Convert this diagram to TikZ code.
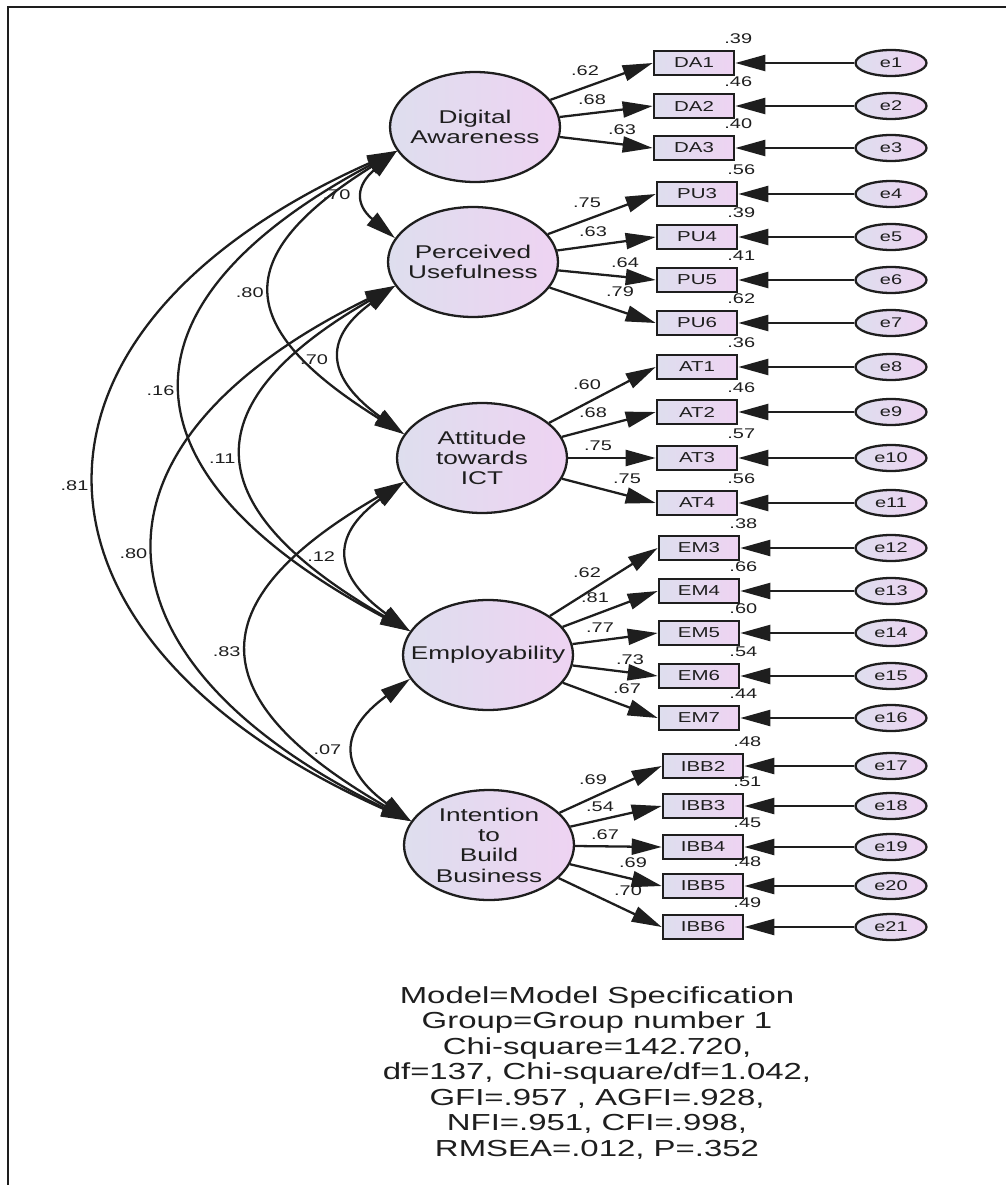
\documentclass[tikz,border=0pt]{standalone}
\usepackage{fontspec}
\setmainfont{Liberation Sans}[FakeStretch=1.42]
\usetikzlibrary{arrows.meta,shapes.geometric}

\definecolor{lavL}{RGB}{222,222,238}
\definecolor{lavR}{RGB}{238,211,242}
\definecolor{ink}{RGB}{30,30,30}

\begin{document}
\begin{tikzpicture}[
  x=0.02cm, y=-0.02cm,
  lavfill/.style={left color=lavL, right color=lavR},
  latent/.style={draw=ink, ellipse, lavfill, line width=1.3pt, minimum width=3.4cm,
    minimum height=2.2cm, inner xsep=-0.5cm, inner ysep=-1pt, align=center,
    text=ink, font=\fontsize{10.5}{11.6}\selectfont},
  obs/.style={draw=ink, rectangle, lavfill, line width=1.5pt, minimum width=1.6cm,
    minimum height=0.48cm, inner sep=0pt, text=ink, font=\fontsize{8.2}{9}\selectfont},
  error/.style={draw=ink, ellipse, lavfill, line width=1.3pt, minimum width=1.42cm,
    minimum height=0.52cm, inner sep=0pt, text=ink, font=\fontsize{8}{9}\selectfont},
  num/.style={inner sep=0pt, text=ink, font=\fontsize{8}{9}\selectfont},
  load/.style={draw=ink, line width=1.3pt, -{Triangle[length=0.6cm, width=0.32cm]}},
  cov/.style={draw=ink, line width=1.3pt,
    {Triangle[length=0.6cm, width=0.32cm]}-{Triangle[length=0.6cm, width=0.32cm]}},
  stats/.style={align=center, text=ink, font=\fontsize{13.2}{14.5}\selectfont}
]
\useasboundingbox (0,0) rectangle (1006,1185);

% Frame
\draw[ink, line width=1.3pt] (1006,7) -- (8,7) -- (8,1185);

% Latent variables
\node[latent] (DA)  at (475,127) {Digital\\Awareness};
\node[latent] (PU)  at (473,262) {Perceived\\Usefulness};
\node[latent] (AT)  at (482,458) {Attitude\\towards\\ICT};
\node[latent] (EM)  at (488,655) {Employability};
\node[latent] (IBB) at (489,845) {Intention\\to\\Build\\Business};

% Indicators, errors and loadings
\foreach \i/\lv/\txt/\xx/\yy/\ld/\lx/\ly/\rr in {
  1/DA/DA1/694/63/.62/585/71/.39,
  2/DA/DA2/694/106/.68/592/100/.46,
  3/DA/DA3/694/148/.63/622/130/.40,
  4/PU/PU3/697/194/.75/587/203/.56,
  5/PU/PU4/697/237/.63/593/232/.39,
  6/PU/PU5/697/280/.64/625/263/.41,
  7/PU/PU6/697/323/.79/620/292/.62,
  8/AT/AT1/697/367/.60/587/385/.36,
  9/AT/AT2/697/412/.68/593/413/.46,
  10/AT/AT3/697/458/.75/598/446/.57,
  11/AT/AT4/697/503/.75/627/479/.56,
  12/EM/EM3/699/548/.62/587/573/.38,
  13/EM/EM4/699/591/.81/595/598/.66,
  14/EM/EM5/699/633/.77/600/628/.60,
  15/EM/EM6/699/676/.73/630/660/.54,
  16/EM/EM7/699/718/.67/627/689/.44,
  17/IBB/IBB2/703/766/.69/593/780/.48,
  18/IBB/IBB3/703/806/.54/600/807/.51,
  19/IBB/IBB4/703/847/.67/605/835/.45,
  20/IBB/IBB5/703/886/.69/633/863/.48,
  21/IBB/IBB6/703/927/.70/628/891/.49}{
  \node[obs] (b\i) at (\xx,\yy) {\txt};
  \node[error] (e\i) at (891,\yy) {e\i};
  \node[num] (r\i) at ([shift={(3,-24)}]b\i.east) {\rr};
  \node[num] (l\i) at (\lx,\ly) {\ld};
  \draw[load] (\lv) -- (b\i.west);
  \draw[load] (e\i) -- (b\i);
}

% Covariances (curved, both ends)
\draw[cov] (DA.197) to[out=220, in=140, looseness=1.55] node[num, left=8pt] (c1) {.70} (PU.163);
\draw[cov] (DA.197) to[out=212, in=148, looseness=1.8] node[num, left=5pt] (c2) {.80} (AT.163);
\draw[cov] (DA.197) to[out=208, in=152, looseness=1.76] node[num, left=5pt] (c3) {.16} (EM.163);
\draw[cov] (DA.197) to[out=204, in=156, looseness=1.7] node[num, left=5pt] (c4) {.81} (IBB.163);
\draw[cov] (PU.197) to[out=216, in=144, looseness=1.6] node[num, left=8pt] (c5) {.70} (AT.163);
\draw[cov] (PU.197) to[out=210, in=150, looseness=1.79] node[num, left=5pt] (c6) {.11} (EM.163);
\draw[cov] (PU.197) to[out=206, in=154, looseness=1.74] node[num, left=5pt] (c7) {.80} (IBB.163);
\draw[cov] (AT.197) to[out=216, in=144, looseness=1.6] node[num, left=8pt] (c8) {.12} (EM.163);
\draw[cov] (AT.197) to[out=210, in=150, looseness=1.82] node[num, left=5pt] (c9) {.83} (IBB.163);
\draw[cov] (EM.197) to[out=216, in=144, looseness=1.6] node[num, left=8pt] (c10) {.07} (IBB.163);

% Fit statistics
\node[stats] (gof) at (597,1073) {Model=Model Specification\\
  Group=Group number 1\\
  Chi-square=142.720,\\
  df=137, Chi-square/df=1.042,\\
  GFI=.957 , AGFI=.928,\\
  NFI=.951, CFI=.998,\\
  RMSEA=.012, P=.352};

\end{tikzpicture}
\end{document}
